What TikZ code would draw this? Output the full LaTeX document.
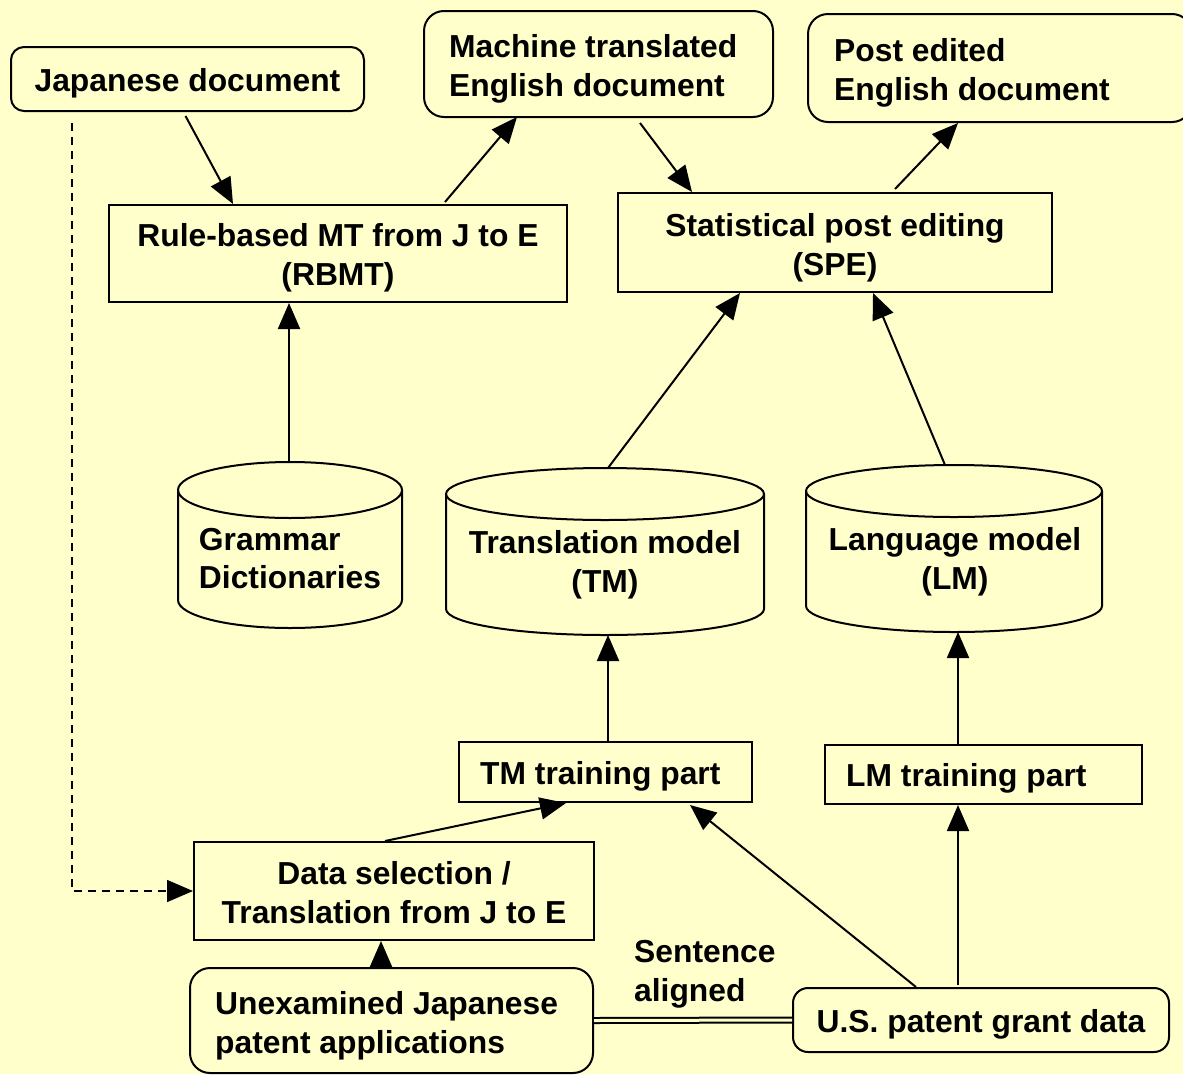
\documentclass[tikz,border=0pt]{standalone}
\usepackage{fontspec}
\setmainfont{Liberation Sans}
\usetikzlibrary{arrows.meta,calc}
\definecolor{bg}{HTML}{FFFFCC}
\def\mycyl#1#2#3#4#5{%
  \draw[line width=2pt] (#1-#2,#3) -- (#1-#2,#4) arc[start angle=180,end angle=0,x radius=#2,y radius=#5] -- (#1+#2,#3);
  \draw[line width=2pt] (#1,#3) ellipse[x radius=#2,y radius=#5];}
\begin{document}
\begin{tikzpicture}[x=1pt,y=-1pt,
  font=\fontsize{31.8}{38.8}\selectfont\bfseries,
  box/.style={draw, line width=2pt, inner sep=0pt},
  rbox/.style={box, rounded corners=18pt},
  txt/.style={inner sep=0pt, align=center},
  ltxt/.style={inner sep=0pt, align=left, anchor=west},
  arr/.style={line width=2pt, -{Triangle[length=26pt,width=22pt]}},
  lbl/.style={inner sep=0pt, align=left}]
\fill[bg] (0,0) rectangle (1183,1074);
\useasboundingbox (0,0) rectangle (1183,1074);

% top row
\node[rbox, rounded corners=13pt, minimum width=353pt, minimum height=64pt] (jd) at (187.5,79) {};
\node[txt] (jdt) at ([yshift=-4.5pt]jd.center) {Japanese document};
\node[rbox, rounded corners=20pt, minimum width=349pt, minimum height=106pt] (mt) at (598.5,64) {};
\node[ltxt] (mtt) at ([xshift=26pt,yshift=-4.5pt]mt.west) {Machine translated\\English document};
\node[rbox, rounded corners=20pt, minimum width=384pt, minimum height=108pt] (pe) at (1000,68) {};
\node[ltxt] (pet) at ([xshift=27pt,yshift=-4.5pt]pe.west) {Post edited\\English document};

% processing boxes
\node[box, minimum width=458pt, minimum height=97pt] (rbmt) at (338,253.5) {};
\node[txt] (rbmtt) at ([yshift=-4.5pt]rbmt.center) {Rule-based MT from J to E\\(RBMT)};
\node[box, minimum width=434pt, minimum height=99pt] (spe) at (835,242.5) {};
\node[txt] (spet) at ([yshift=-5.5pt]spe.center) {Statistical post editing\\(SPE)};

% cylinders
\mycyl{290}{112}{490}{600}{28}
\mycyl{605}{159}{494}{609}{26}
\mycyl{954}{148}{491}{606}{26}
\node[lbl] (gd) at (290,558.5) {Grammar\\Dictionaries};
\node[lbl, align=center] (tm) at (605,564.5) {Translation model\\(TM)};
\node[lbl, align=center] (lm) at (955,562) {Language model\\(LM)};
\coordinate (gdtop) at (289,462);
\coordinate (tmtop) at (608,468);
\coordinate (tmbot) at (608,635);
\coordinate (lmtop) at (945,465);
\coordinate (lmbot) at (958,632);

% training parts
\node[box, minimum width=293pt, minimum height=60pt] (tmt) at (605.5,772) {};
\node[ltxt] (tmtt) at ([xshift=22pt,yshift=-4pt]tmt.west) {TM training part};
\node[box, minimum width=317pt, minimum height=59pt] (lmt) at (983.5,774.5) {};
\node[ltxt] (lmtt) at ([xshift=22pt,yshift=-4pt]lmt.west) {LM training part};

% bottom
\node[box, minimum width=400pt, minimum height=98pt] (ds) at (394,891) {};
\node[txt] (dst) at ([yshift=-2pt]ds.center) {Data selection /\\Translation from J to E};
\node[rbox, rounded corners=20pt, minimum width=403pt, minimum height=105pt] (uj) at (391.5,1020.5) {};
\node[ltxt] (ujt) at ([xshift=26pt,yshift=-5.5pt]uj.west) {Unexamined Japanese\\patent applications};
\node[rbox, rounded corners=15pt, minimum width=376pt, minimum height=64pt] (us) at (981,1020) {};
\node[txt] (ust) at ([yshift=-4pt]us.center) {U.S. patent grant data};
\node[lbl, anchor=west] (sa) at (634,974.5) {Sentence\\aligned};

% connectors
\draw[arr] ([xshift=-2pt,yshift=-4pt]jd.south) -- ([xshift=-105pt]rbmt.north);
\draw[arr] ([xshift=107pt,yshift=2pt]rbmt.north) -- ([xshift=-81.5pt,yshift=1pt]mt.south);
\draw[arr] ([xshift=41.5pt,yshift=-5pt]mt.south) -- ([xshift=-143pt]spe.north);
\draw[arr] ([xshift=60pt,yshift=3pt]spe.north) -- ([xshift=-42pt]pe.south);
\draw[arr] (gdtop) -- ([xshift=-49pt]rbmt.south);
\draw[arr] (tmtop) -- ([xshift=-95pt]spe.south);
\draw[arr] (lmtop) -- ([xshift=38pt]spe.south);
\draw[arr] ([xshift=2.5pt]tmt.north) -- (tmbot);
\draw[arr] ([xshift=-25.5pt]lmt.north) -- (lmbot);
\draw[arr] ([xshift=-9pt]ds.north) -- ([xshift=-39.5pt]tmt.south);
\draw[arr] ([xshift=-65pt]us.north) -- ([xshift=84.5pt,yshift=-2pt]tmt.south);
\draw[arr] ([xshift=-23pt,yshift=2pt]us.north) -- ([xshift=-25.5pt]lmt.south);
\draw[arr] ([xshift=-10.5pt,yshift=2pt]uj.north) -- ([xshift=-13pt]ds.south);
\draw[line width=1.5pt, dash pattern=on 8pt off 6pt, -{Triangle[length=26pt,width=22pt]}]
  ([xshift=-115.5pt,yshift=-11pt]jd.south) |- (ds.west);
\draw[line width=2pt, double=bg, double distance=3pt] (uj.east) -- (us.west);
\end{tikzpicture}
\end{document}
